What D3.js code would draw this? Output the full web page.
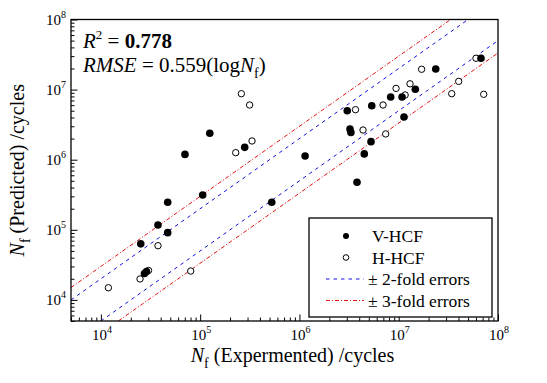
<!DOCTYPE html>
<html>
<head>
<meta charset="utf-8">
<script src="https://cdn.jsdelivr.net/npm/d3@7"></script>
<style>
  body { margin: 0; background: #fff; }
  text { font-family: "Liberation Serif", "DejaVu Serif", serif; }
</style>
</head>
<body>
<svg width="547" height="383"></svg>
<script>
// V-HCF points: experimental life vs predicted life (cycles)
const vExp  = [2.52e4, 4.71e4, 3.76e4, 4.71e4, 7.03e4, 1.06e5, 1.25e5, 2.81e5, 5.26e5, 1.14e6,
               3.03e6, 3.23e6, 3.30e6, 3.80e6, 4.50e6, 5.26e6, 5.35e6, 8.30e6, 1.08e7, 1.13e7,
               1.47e7, 2.36e7, 6.74e7, 2.75e4, 2.88e4];
const vPred = [6.3e4, 9.1e4, 1.17e5, 2.47e5, 1.19e6, 3.14e5, 2.38e6, 1.50e6, 2.47e5, 1.13e6,
               5.0e6, 2.74e6, 2.44e6, 4.76e5, 1.21e6, 1.81e6, 5.89e6, 7.84e6, 7.84e6, 4.06e6,
               1.01e7, 1.97e7, 2.80e7, 2.38e4, 2.54e4];

// H-HCF points
const hExp  = [1.19e4, 2.48e4, 3.02e4, 3.76e4, 8.03e4, 2.28e5, 2.60e5, 3.15e5, 3.33e5, 3.67e6,
               4.37e6, 6.95e6, 7.39e6, 9.40e6, 1.16e7, 1.30e7, 1.70e7, 3.42e7, 4.02e7, 6.00e7, 7.18e7];
const hPred = [1.49e4, 1.99e4, 2.63e4, 5.93e4, 2.58e4, 1.26e6, 8.74e6, 6.03e6, 1.85e6, 5.17e6,
               2.65e6, 6.03e6, 2.33e6, 1.04e7, 8.38e6, 1.21e7, 1.95e7, 8.74e6, 1.31e7, 2.80e7, 8.57e6];

const majorTicks = [1e4, 1e5, 1e6, 1e7, 1e8];
const tickExponents = ["4", "5", "6", "7", "8"];
const errorBands = [
  {factor: 2, color: "#1010e0", dash: "3.5,4"},
  {factor: 3, color: "#e01010", dash: "4,2,1,2"}
];
const legendLabels = ["V-HCF", "H-HCF", "\u00b1 2-fold errors", "\u00b1 3-fold errors"];

const svg = d3.select("svg").attr("font-family", "'Liberation Serif', 'DejaVu Serif', serif");
const pL = 71, pR = 498, pT = 19.5, pB = 321;

const x = d3.scaleLog().domain([5000, 1e8]).range([pL, pR]);
const y = d3.scaleLog().domain([5000, 1e8]).range([pB, pT]);

const minorTicks = [];
for (let e = 3; e < 8; e++) {
  for (let m = 2; m <= 9; m++) {
    const v = m * Math.pow(10, e);
    if (v >= 5000 && v <= 1e8) minorTicks.push(v);
  }
}

svg.append("clipPath").attr("id", "plot")
  .append("rect").attr("x", pL).attr("y", pT)
  .attr("width", pR - pL).attr("height", pB - pT);

// error band lines
const lines = svg.append("g").attr("clip-path", "url(#plot)");
const [d0, d1] = x.domain();
const [r0, r1] = y.domain();
errorBands.forEach(b => {
  [b.factor, 1 / b.factor].forEach(k => {
    const xa = Math.max(d0, r0 / k), xb = Math.min(d1, r1 / k);
    lines.append("path")
      .datum([xa, xb])
      .attr("d", d3.line().x(d => x(d)).y(d => y(d * k)))
      .attr("fill", "none")
      .attr("stroke", b.color)
      .attr("stroke-width", 1)
      .attr("stroke-dasharray", b.dash);
  });
});

// axes with inward ticks
function addAxis(gen, scale, transform, vals, size) {
  svg.append("g").attr("transform", transform)
    .call(gen(scale).tickValues(vals).tickSize(size).tickFormat(""))
    .call(g => g.select(".domain").remove())
    .call(g => g.selectAll("line").attr("stroke", "#000").attr("stroke-width", 1));
}
addAxis(d3.axisBottom, x, `translate(0,${pB})`, minorTicks, -3.5);
addAxis(d3.axisBottom, x, `translate(0,${pB})`, majorTicks, -6.5);
addAxis(d3.axisLeft, y, `translate(${pL},0)`, minorTicks, -3.5);
addAxis(d3.axisLeft, y, `translate(${pL},0)`, majorTicks, -6.5);

// tick labels 10^n
majorTicks.forEach((v, i) => {
  const tx = svg.append("text").attr("x", x(v) + 1).attr("y", 340)
    .attr("text-anchor", "middle").attr("font-size", 15);
  tx.append("tspan").text("10");
  tx.append("tspan").attr("font-size", 10).attr("dy", -7).text(tickExponents[i]);

  const ty = svg.append("text").attr("x", 66).attr("y", y(v) + 5)
    .attr("text-anchor", "end").attr("font-size", 15);
  ty.append("tspan").text("10");
  ty.append("tspan").attr("font-size", 10).attr("dy", -7).text(tickExponents[i]);
});

svg.append("rect")
  .attr("x", pL).attr("y", pT)
  .attr("width", pR - pL).attr("height", pB - pT)
  .attr("fill", "none").attr("stroke", "#000").attr("stroke-width", 1.3);

// points
svg.append("g").selectAll("circle")
  .data(hExp.map((d, i) => [d, hPred[i]]))
  .join("circle")
  .attr("cx", d => x(d[0])).attr("cy", d => y(d[1])).attr("r", 3.2)
  .attr("fill", "#fff").attr("stroke", "#000").attr("stroke-width", 1);

svg.append("g").selectAll("circle")
  .data(vExp.map((d, i) => [d, vPred[i]]))
  .join("circle")
  .attr("cx", d => x(d[0])).attr("cy", d => y(d[1])).attr("r", 3.8)
  .attr("fill", "#000");

// annotation
const a1 = svg.append("text").attr("x", 83).attr("y", 48).attr("font-size", 21);
a1.append("tspan").attr("font-style", "italic").text("R");
a1.append("tspan").attr("font-size", 13).attr("dy", -9).text("2");
a1.append("tspan").attr("dy", 9).text(" = ");
a1.append("tspan").attr("font-weight", "bold").text("0.778");

const a2 = svg.append("text").attr("x", 83).attr("y", 72).attr("font-size", 21);
a2.append("tspan").attr("font-style", "italic").text("RMSE");
a2.append("tspan").text(" = 0.559(log");
a2.append("tspan").attr("font-style", "italic").text("N");
a2.append("tspan").attr("font-size", 14).attr("dy", 6).text("f");
a2.append("tspan").attr("dy", -6).text(")");

// axis titles
const xt = svg.append("text").attr("x", (pL + pR) / 2 + 8).attr("y", 362)
  .attr("text-anchor", "middle").attr("font-size", 20);
xt.append("tspan").attr("font-style", "italic").text("N");
xt.append("tspan").attr("font-size", 14).attr("dy", 6).text("f");
xt.append("tspan").attr("dy", -6).text(" (Expermented) /cycles");

const yt = svg.append("text")
  .attr("transform", `translate(24,${(pT + pB) / 2}) rotate(-90)`)
  .attr("text-anchor", "middle").attr("font-size", 20);
yt.append("tspan").attr("font-style", "italic").text("N");
yt.append("tspan").attr("font-size", 14).attr("dy", 6).text("f");
yt.append("tspan").attr("dy", -6).text(" (Predicted) /cycles");

// legend
const lg = svg.append("g");
lg.append("rect").attr("x", 309).attr("y", 218).attr("width", 183).attr("height", 99)
  .attr("fill", "#fff").attr("stroke", "#000").attr("stroke-width", 1.3);
const rowY = i => 236 + i * 21.5;
lg.append("circle").attr("cx", 346).attr("cy", rowY(0)).attr("r", 3).attr("fill", "#000");
lg.append("circle").attr("cx", 346).attr("cy", rowY(1)).attr("r", 2.8)
  .attr("fill", "#fff").attr("stroke", "#000");
errorBands.forEach((b, j) => {
  lg.append("line").attr("x1", 326).attr("x2", 364)
    .attr("y1", rowY(j + 2)).attr("y2", rowY(j + 2))
    .attr("stroke", b.color).attr("stroke-width", 1).attr("stroke-dasharray", b.dash);
});
legendLabels.forEach((t, i) => {
  lg.append("text").attr("x", i < 2 ? 372 : 368).attr("y", rowY(i) + 6)
    .attr("font-size", 17.5).text(t);
});
</script>
</body>
</html>
